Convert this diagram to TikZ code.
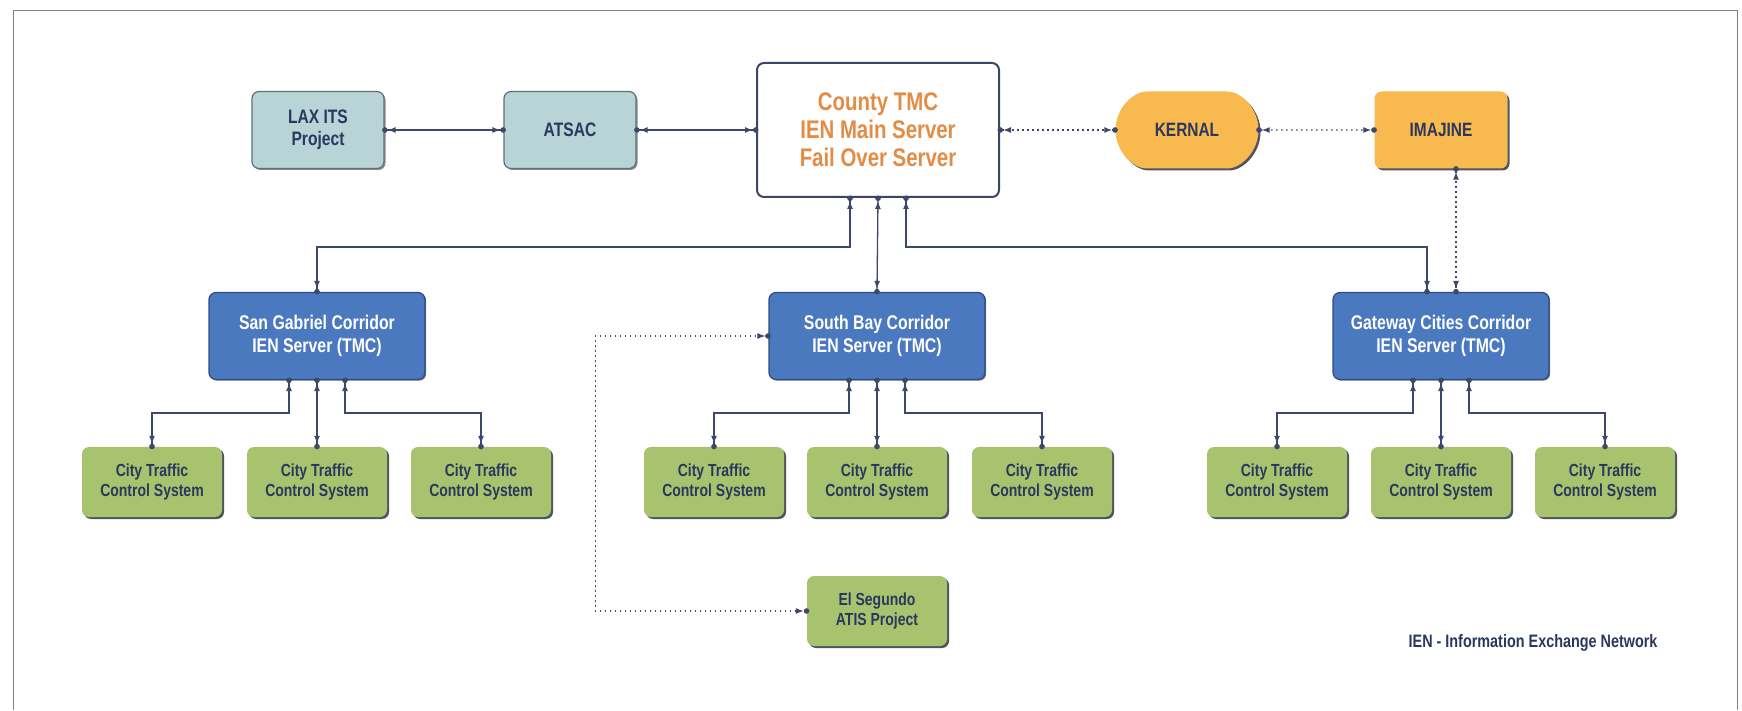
\documentclass[tikz,border=0pt]{standalone}
\usepackage{fontspec}
\newfontfamily\condfont[FakeStretch=0.8, UprightFont={* Bold}, BoldFont={* Bold}]{Liberation Sans}
\usetikzlibrary{arrows.meta,shapes.misc,shadows}

\definecolor{tealfill}{RGB}{184,212,214}
\definecolor{tealline}{RGB}{95,110,125}
\definecolor{tmcline}{RGB}{60,70,100}
\definecolor{tmctext}{RGB}{226,140,70}
\definecolor{orangefill}{RGB}{248,186,78}
\definecolor{bluefill}{RGB}{74,121,192}
\definecolor{blueline}{RGB}{45,75,130}
\definecolor{greenfill}{RGB}{168,195,110}
\definecolor{navytext}{RGB}{42,55,95}
\definecolor{linkc}{RGB}{62,72,105}
\definecolor{shadowc}{RGB}{60,65,75}

\begin{document}
\begin{tikzpicture}[x=1pt, y=1pt,
  box/.style={rounded corners=7pt, align=center, inner sep=0pt, text=navytext},
  itsbox/.style={box, draw=tealline, fill=tealfill, line width=1.2pt, minimum width=132pt, minimum height=77pt,
    drop shadow={shadow xshift=1.5pt, shadow yshift=-1.5pt, fill=shadowc, opacity=0.6},
    font=\condfont\fontsize{19.5}{22}\selectfont},
  tmcbox/.style={box, draw=tmcline, fill=white, line width=2pt, minimum width=242pt, minimum height=134pt,
    text=tmctext, font=\condfont\fontsize{25.5}{28}\selectfont},
  extbox/.style={box, fill=orangefill, minimum height=77pt,
    drop shadow={shadow xshift=2pt, shadow yshift=-2pt, fill=shadowc, opacity=0.9},
    font=\condfont\fontsize{19.3}{22}\selectfont},
  corbox/.style={box, draw=blueline, fill=bluefill, line width=1.2pt, minimum width=216pt, minimum height=87pt,
    drop shadow={shadow xshift=1.2pt, shadow yshift=-1.2pt, fill=shadowc, opacity=0.7},
    text=white, font=\condfont\fontsize{19.8}{23}\selectfont},
  citybox/.style={box, fill=greenfill, minimum width=140pt, minimum height=70pt,
    drop shadow={shadow xshift=2pt, shadow yshift=-2pt, fill=shadowc, opacity=0.9},
    font=\condfont\fontsize{17.5}{20}\selectfont},
  link/.style={draw=linkc, line width=1.3pt, shorten <=-2.5pt, shorten >=-2.5pt,
    arrows={Circle[length=5.5pt]Latex[length=8pt,width=6pt]-Latex[length=8pt,width=6pt]Circle[length=5.5pt]}},
  dotlink/.style={link, dash pattern=on 1.5pt off 3.5pt}]

\useasboundingbox (0,0) rectangle (1742,710);
\draw[gray, line width=1pt] (13,0) -- (13,699) -- (1737,699) -- (1737,0);

\node[itsbox] (lax) at (318,580) {LAX ITS\\Project};
\node[itsbox] (atsac) at (570,580) {ATSAC};
\node[tmcbox] (tmc) at (878,580) {County TMC\\IEN Main Server\\Fail Over Server};
\node[extbox, rounded rectangle, minimum width=143pt] (kernal) at (1187,580) {KERNAL};
\node[extbox, minimum width=133pt] (imajine) at (1441,580) {IMAJINE};

\node[corbox] (sg) at (317,374) {San Gabriel Corridor\\IEN Server (TMC)};
\node[corbox] (sb) at (877,374) {South Bay Corridor\\IEN Server (TMC)};
\node[corbox] (gw) at (1441,374) {Gateway Cities Corridor\\IEN Server (TMC)};

\foreach \n/\x in {sg1/152, sg2/317, sg3/481, sb1/714, sb2/877, sb3/1042, gw1/1277, gw2/1441, gw3/1605}
  \node[citybox] (\n) at (\x,228) {City Traffic\\Control System};

\node[citybox] (elseg) at (877,99) {El Segundo\\ATIS Project};
\node[anchor=east, text=navytext, font=\condfont\fontsize{18}{20}\selectfont] (legend) at (1661,67)
  {IEN - Information Exchange Network};

\draw[link] (lax) -- (atsac);
\draw[link] (atsac) -- (tmc);
\draw[dotlink] (tmc) -- (kernal);
\draw[dotlink] (kernal) -- (imajine);
\draw[dotlink] ([xshift=15pt]imajine.south) -- ([xshift=15pt]gw.north);

\draw[link] ([xshift=-28pt]tmc.south) -- ++(0,-49) -| (sg.north);
\draw[link] (tmc.south) -- (sb.north);
\draw[link] ([xshift=28pt]tmc.south) -- ++(0,-49) -| ([xshift=-14pt]gw.north);

\foreach \c in {sg,sb,gw} {
  \draw[link] ([xshift=-28pt]\c.south) -- ++(0,-33) -| (\c1.north);
  \draw[link] (\c.south) -- (\c2.north);
  \draw[link] ([xshift=28pt]\c.south) -- ++(0,-33) -| (\c3.north);
}

\draw[dotlink] (sb.west) -- ++(-173,0) |- (elseg.west);
\end{tikzpicture}
\end{document}
